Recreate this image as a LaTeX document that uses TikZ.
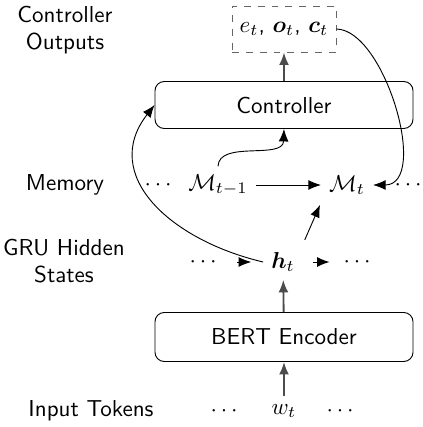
\documentclass[tikz,border=0pt]{standalone}
\usepackage{tikz}
\usetikzlibrary{arrows.meta}
\usetikzlibrary{shapes.geometric, positioning, calc}
\usepackage{amsmath}
\usepackage[]{bm}
\renewcommand{\familydefault}{\sfdefault}

\begin{document}
\begin{tikzpicture}[x=0.01524cm, y=-0.01524cm, >={Latex[length=1.9mm, width=1.5mm]},
    block/.style={draw, rounded corners=4pt, minimum width=258*0.01524cm, minimum height=47*0.01524cm},
    label/.style={align=center}]
      \useasboundingbox (0, 0) rectangle (422, 427);

      % left labels
      \node[label] (lout) at (65, 30) {Controller\\Outputs};
      \node[label] (lmem) at (65, 185) {Memory};
      \node[label] (lgru) at (64, 261) {GRU Hidden\\States};
      \node[label] (lin) at (91, 411) {Input Tokens};

      % blocks
      \node[draw, dashed, gray!80!black, minimum width=102*0.01524cm, minimum height=46*0.01524cm, text=black] (out) at (284, 29) {$e_t$, $\bm{o}_t$, $\bm{c}_t$};
      \node[block] (ctrl) at (284, 105) {Controller};
      \node[block, minimum height=49*0.01524cm] (bert) at (284, 337) {BERT Encoder};

      % memory row
      \node (mdl) at (160, 185) {$\cdots$};
      \node (mprev) at (218, 185) {$\mathcal{M}_{t-1}$};
      \node (mcur) at (347, 185) {$\mathcal{M}_t$};
      \node (mdr) at (410, 185) {$\cdots$};

      % hidden row
      \node (hdl) at (205, 262) {$\cdots$};
      \node (h) at (283, 262) {$\bm{h}_t$};
      \node (hdr) at (359, 262) {$\cdots$};

      % input row
      \node (wdl) at (226, 411) {$\cdots$};
      \node (w) at (284, 411) {$w_t$};
      \node (wdr) at (342, 411) {$\cdots$};

      \draw[->, gray!60!black, thick] (ctrl) -- (out);
      \draw[->, gray!60!black, thick] (bert) -- (h);
      \draw[->, gray!60!black, thick] (w) -- (bert);

      \draw[->] (mprev) -- (mcur);
      \draw[->, shorten <=9pt*0.43, shorten >=12pt*0.43] (hdl) -- (h);
      \draw[->, shorten <=10pt*0.43, shorten >=6pt*0.43] (h) -- (hdr);
      \draw[->, shorten <=2pt, shorten >=1pt] (h.north east) -- (mcur.south west);

      \draw[->] (mprev.north) .. controls (219, 140) and (283, 160) .. (ctrl.south);
      \draw[->] (h.west) .. controls (170, 240) and (100, 175) .. (ctrl.west);
      \draw[->] (out.east) .. controls (385, 30) and (430, 185) .. (mcur.east);

    \end{tikzpicture}
\end{document}
